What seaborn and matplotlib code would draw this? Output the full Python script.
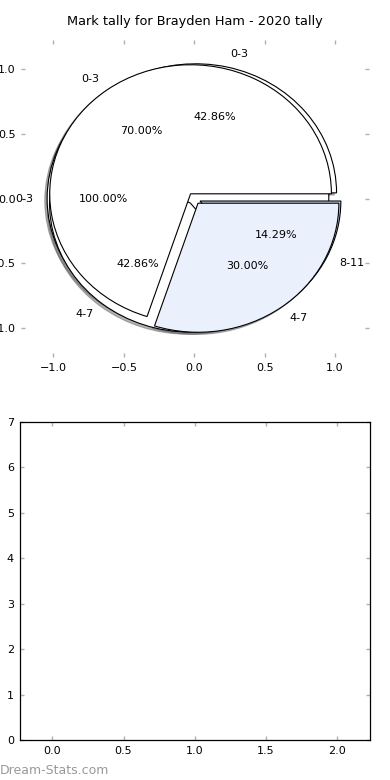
import matplotlib
matplotlib.use("Agg")
import matplotlib.pyplot as plt
import seaborn as sns

# tallies per season (counts), drawn as overlapping pies
labels_a = ['0-3']
counts_a = [1]
labels_c = ['0-3', '4-7', '8-11']
counts_c = [3, 3, 1]
labels_b = ['0-3', '4-7']
counts_b = [7, 3]

colors_a = ['white']
colors_c = ['white', 'white', '#c8d6f5']
colors_b = ['white', '#eaf0fc']

bar_categories = ['0-3', '4-7', '8-11']
y_max = 7

title = 'Mark tally for Brayden Ham - 2020 tally'

sns.set_style('white')
plt.rcParams['font.family'] = ['DejaVu Sans']
plt.rcParams['text.color'] = 'black'

fig = plt.figure(figsize=(3.9, 7.8), dpi=100)
ax1 = fig.add_axes([0.054, 0.542, 0.892, 0.407])
ax2 = fig.add_axes([0.05, 0.051, 0.899, 0.408])

wp = {'edgecolor': 'black', 'linewidth': 0.8}
shadow = {'ox': -0.012, 'oy': -0.012, 'shade': 0.6}
for lab, cnt, col in [(labels_a, counts_a, colors_a),
                      (labels_c, counts_c, colors_c),
                      (labels_b, counts_b, colors_b)]:
    ax1.pie(cnt, labels=lab, colors=col, autopct='%.2f%%',
            explode=[0.045] * len(cnt), shadow=shadow, frame=True,
            wedgeprops=wp, textprops={'fontsize': 8, 'color': 'black'})

ax1.set_xlim(-1.23, 1.24)
ax1.set_ylim(-1.23, 1.23)
ax1.set_aspect('auto')
ax1.set_xticks([-1.0, -0.5, 0.0, 0.5, 1.0])
ax1.set_yticks([-1.0, -0.5, 0.0, 0.5, 1.0])
ax1.set_frame_on(False)
ax1.set_title(title, fontsize=9.3, pad=11, color='black')

ax2.set_xlim(-0.23, len(bar_categories) - 1 + 0.23)
ax2.set_ylim(0, y_max)
ax2.set_xticks([0.0, 0.5, 1.0, 1.5, 2.0])
ax2.set_yticks(range(0, y_max + 1))
for s in ax2.spines.values():
    s.set_visible(True)
    s.set_color('black')
    s.set_linewidth(0.9)

for ax in (ax1, ax2):
    ax.tick_params(direction='in', top=True, right=True, length=3,
                   width=1, color='#b0b0b0', labelsize=8, pad=4,
                   labelcolor='black', bottom=True, left=True)

fig.text(0.0, 0.004, 'Dream-Stats.com', fontsize=9, color='#999999',
         ha='left', va='bottom')

fig.savefig('out.png', dpi=100)
